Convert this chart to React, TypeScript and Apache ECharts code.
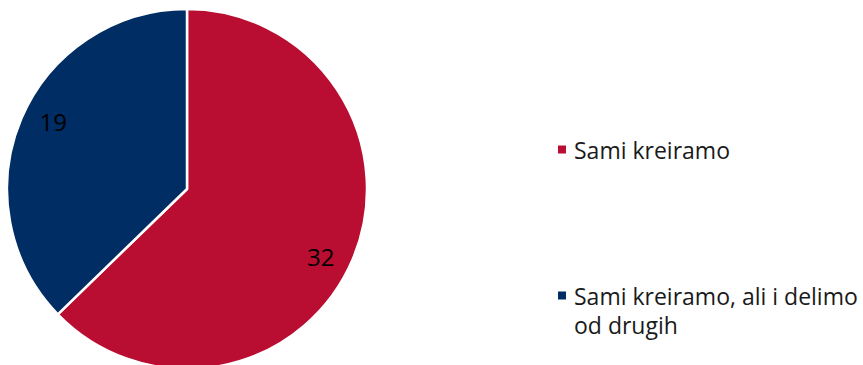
import React, { useEffect, useRef } from "react";
import * as echarts from "echarts";

const categories = ["Sami kreiramo", "Sami kreiramo, ali i delimo od drugih"];
const legendLines = [["Sami kreiramo"], ["Sami kreiramo, ali i delimo", "od drugih"]];
const values = [32, 19];
const colors = ["#B90D31", "#002D64"];

export default function App() {
  const ref = useRef<HTMLDivElement>(null);
  useEffect(() => {
    document.body.style.margin = "0";
    if (!ref.current) return;
    const chart = echarts.init(ref.current, undefined, { renderer: "svg" });
    const data = categories.map((name, i) => ({
      name,
      value: values[i],
      itemStyle: { color: colors[i] },
    }));
    const font = "'Open Sans', sans-serif";
    const legendText = {
      fontFamily: font,
      fontSize: 23,
      color: "#1a1a1a",
      lineHeight: 29,
      rich: {
        t: {
          fontFamily: font,
          fontSize: 23,
          color: "#1a1a1a",
          lineHeight: 29,
          padding: [0, 0, 0, 2],
        },
      },
    };
    const fmt = (i: number) => {
      const lines = legendLines[i].map((l) => "{t|" + l + "}");
      // a leading empty line keeps the icon level with the first text line
      return lines.length > 1 ? "{t| }\n" + lines.join("\n") : lines[0];
    };
    chart.setOption({
      animation: false,
      legend: [
        {
          data: [categories[0]],
          orient: "vertical",
          left: 556,
          top: 135,
          padding: 0,
          icon: "rect",
          itemWidth: 10,
          itemHeight: 10,
          selectedMode: false,
          formatter: () => fmt(0),
          textStyle: legendText,
        },
        {
          data: [categories[1]],
          orient: "vertical",
          left: 556,
          top: 252,
          padding: 0,
          icon: "rect",
          itemWidth: 10,
          itemHeight: 10,
          selectedMode: false,
          formatter: () => fmt(1),
          textStyle: legendText,
        },
      ],
      series: [
        {
          type: "pie",
          center: [187, 189],
          radius: [0, 180],
          startAngle: 90,
          clockwise: true,
          silent: true,
          label: { show: false },
          labelLine: { show: false },
          itemStyle: { borderColor: "#ffffff", borderWidth: 2.5 },
          data,
        },
        {
          type: "pie",
          center: [187, 189],
          radius: [114, 180],
          startAngle: 86,
          clockwise: true,
          silent: true,
          legendHoverLink: false,
          itemStyle: { color: "rgba(0,0,0,0)", borderWidth: 0 },
          label: {
            show: true,
            position: "inside",
            formatter: "{c}",
            fontFamily: font,
            fontSize: 24,
            color: "#000000",
          },
          labelLine: { show: false },
          data: categories.map((name, i) => ({
            name: name + " ",
            value: values[i],
          })),
        },
      ],
    });
    return () => chart.dispose();
  }, []);
  return <div ref={ref} style={{ width: 863, height: 365 }} />;
}
